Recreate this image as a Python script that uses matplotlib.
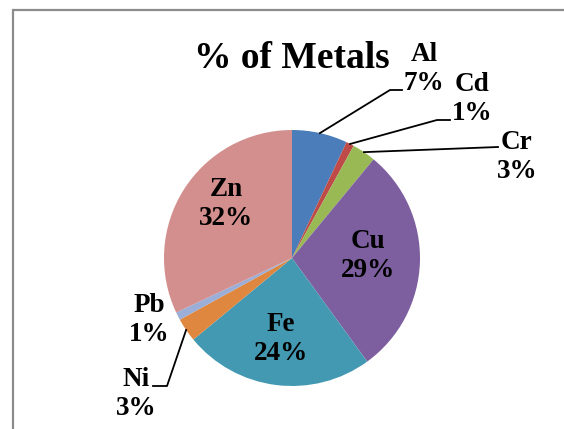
import numpy as np
import matplotlib
matplotlib.use('Agg')
import matplotlib.pyplot as plt
from matplotlib.patches import Rectangle

metals = ['Al', 'Cd', 'Cr', 'Cu', 'Fe', 'Ni', 'Pb', 'Zn']
percent = [7, 1, 3, 29, 24, 3, 1, 32]
colors = ['#4A7DBA', '#BE4B48', '#98B954', '#7D5FA0',
          '#4399B2', '#E0873F', '#9AAED7', '#D38F8D']

W, H = 564, 429
cx, cy, r = 292, H - 258, 128

plt.rcParams['font.family'] = ['Liberation Serif', 'DejaVu Serif']

fig = plt.figure(figsize=(W / 100, H / 100), dpi=100)
ax = fig.add_axes([0, 0, 1, 1])

wedges, _ = ax.pie(percent, colors=colors, startangle=90, counterclock=False,
                   center=(cx, cy), radius=r,
                   wedgeprops=dict(linewidth=0))
ax.set_xlim(0, W)
ax.set_ylim(0, H)
ax.set_aspect('equal')
ax.axis('off')

# outer frame of the chart area
ax.add_patch(Rectangle((13, -20), W, H - 10 + 20, fill=False,
                       edgecolor='#8c8c8c', lw=1.6, clip_on=False))

ax.text(292, H - 68, '% of Metals', fontsize=27, fontweight='bold',
        ha='center', va='baseline')

fs = 19.5
labels = [f'{m}\n{p}%' for m, p in zip(metals, percent)]
mids = [(w.theta1 + w.theta2) / 2 for w in wedges]

# label block centres, image pixels
label_pos = {0: (424, 69), 1: (472, 99), 2: (517, 157), 3: (368, 256),
             4: (281, 339), 5: (136, 394), 6: (149, 320), 7: (226, 204)}
# leader lines: elbow/end points in image pixels
leaders = {0: [(390, 90), (402, 90)],
           1: [(437, 120), (450, 120)],
           2: [(498, 147)],
           5: [(167, 386), (153, 386)]}

for i, (tx, ty) in label_pos.items():
    ax.text(tx, H - ty, labels[i], fontsize=fs, fontweight='bold',
            ha='center', va='center', linespacing=1.22)
    if i in leaders:
        a = np.deg2rad(mids[i])
        xs = [cx + r * np.cos(a)] + [p[0] for p in leaders[i]]
        ys = [cy + r * np.sin(a)] + [H - p[1] for p in leaders[i]]
        ax.plot(xs, ys, color='black', lw=1.3)

fig.savefig('out.png', dpi=100)
